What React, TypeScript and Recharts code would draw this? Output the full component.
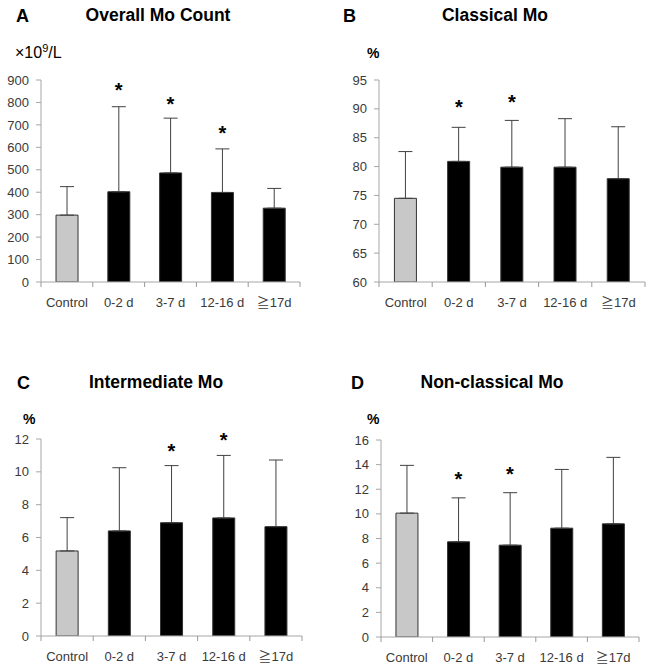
import React from 'react'
import { ComposedChart, Bar, Cell, XAxis, YAxis, ErrorBar, ReferenceDot } from 'recharts'

const categories = ['Control', '0-2 d', '3-7 d', '12-16 d', '≧17d']

// A: overall monocyte count
const overallMean = [298, 402, 486, 399, 329]
const overallSd = [127, 379, 244, 194, 88]
const overallStar = [null, 873, 814, 685, null]
const overallTicks = [0, 100, 200, 300, 400, 500, 600, 700, 800, 900]

// B: classical
const classicalMean = [74.5, 80.9, 79.9, 79.9, 77.9]
const classicalSd = [8.1, 5.9, 8.1, 8.4, 9.0]
const classicalStar = [null, 91.0, 92.0, null, null]
const classicalTicks = [60, 65, 70, 75, 80, 85, 90, 95]

// C: intermediate
const intermediateMean = [5.18, 6.4, 6.9, 7.19, 6.66]
const intermediateSd = [2.03, 3.85, 3.48, 3.81, 4.06]
const intermediateStar = [null, null, 11.53, 12.18, null]
const intermediateTicks = [0, 2, 4, 6, 8, 10, 12]

// D: non-classical
const nonClassicalMean = [10.06, 7.73, 7.46, 8.84, 9.19]
const nonClassicalSd = [3.88, 3.57, 4.26, 4.77, 5.4]
const nonClassicalStar = [null, 13.23, 13.56, null, null]
const nonClassicalTicks = [0, 2, 4, 6, 8, 10, 12, 14, 16]

const FONT = '"Liberation Sans", Arial, sans-serif'
const TICK_FONT = '"Liberation Sans", Arial, "Noto Sans CJK JP", sans-serif'
const AXIS = '#a6a6a6'
const TEXT = '#3a3a3a'
const CAT_TICK_SIZE = 9
const CAT_TICK_MARGIN = 7

const StarMark = (props: any) => (
  <text
    x={props.cx}
    y={props.cy}
    dy="0.57em"
    textAnchor="middle"
    fontSize={20}
    fontWeight="bold"
    fontFamily={FONT}
    fill="#000"
  >
    *
  </text>
)

// category label plus Excel-style tick marks on the category boundaries
const CategoryTick = (props: any) => {
  const { x, y, payload, index, fallbackHalf } = props
  const half = payload.offset || fallbackHalf
  const axisY = y - CAT_TICK_SIZE - CAT_TICK_MARGIN
  return (
    <g>
      <line x1={x - half} y1={axisY} x2={x - half} y2={axisY + 5} stroke="#999" />
      {index === categories.length - 1 && (
        <line x1={x + half} y1={axisY} x2={x + half} y2={axisY + 5} stroke="#999" />
      )}
      <text x={x} y={y} dy="0.71em" textAnchor="middle" fill={TEXT} fontSize={13} fontFamily={TICK_FONT}>
        {payload.value}
      </text>
    </g>
  )
}

interface PanelProps {
  letter: string
  title: string
  unit: React.ReactNode
  means: number[]
  sds: number[]
  stars: (number | null)[]
  ticks: number[]
  left: number
  top: number
  width: number
  height: number
  plot: { left: number; right: number; top: number; bottom: number }
  titleX: number
  titleY: number
  letterX: number
  unitX: number
  unitY: number
}

function Panel(p: PanelProps) {
  const data = categories.map((name, i) => ({ name, mean: p.means[i], err: [0, p.sds[i]] }))
  const margin = {
    top: p.plot.top,
    right: p.width - p.plot.right,
    left: 0,
    bottom: p.height - p.plot.bottom - 30,
  }
  const fallbackHalf = (p.plot.right - p.plot.left) / categories.length / 2
  return (
    <div style={{ position: 'absolute', left: p.left, top: p.top, width: p.width, height: p.height }}>
      <div style={{ position: 'absolute', left: p.letterX, top: p.titleY, transform: 'translateY(-50%)', fontSize: 18, fontWeight: 'bold', lineHeight: 1 }}>
        {p.letter}
      </div>
      <div style={{ position: 'absolute', left: p.titleX, top: p.titleY, transform: 'translate(-50%, -50%)', fontSize: 17.5, fontWeight: 'bold', lineHeight: 1, whiteSpace: 'nowrap' }}>
        {p.title}
      </div>
      <div style={{ position: 'absolute', left: p.unitX, top: p.unitY, transform: 'translateY(-50%)', fontSize: 16, lineHeight: 1, whiteSpace: 'nowrap' }}>
        {p.unit}
      </div>
      <ComposedChart width={p.width} height={p.height} data={data} margin={margin} barCategoryGap="29%">
        <XAxis
          dataKey="name"
          type="category"
          axisLine={{ stroke: AXIS }}
          tickLine={false}
          tickSize={CAT_TICK_SIZE}
          tickMargin={CAT_TICK_MARGIN}
          height={30}
          interval={0}
          tick={<CategoryTick fallbackHalf={fallbackHalf} />}
        />
        <YAxis
          domain={[p.ticks[0], p.ticks[p.ticks.length - 1]]}
          ticks={p.ticks}
          interval={0}
          allowDataOverflow
          width={p.plot.left}
          tickSize={5}
          tickMargin={7}
          stroke={AXIS}
          tick={{ fill: TEXT, fontSize: 13, fontFamily: FONT }}
        />
        <Bar dataKey="mean" stroke="#333" strokeWidth={1} isAnimationActive={false}>
          {data.map((d, i) => (
            <Cell key={d.name} fill={i === 0 ? '#c8c8c8' : '#000'} />
          ))}
          <ErrorBar dataKey="err" width={7} stroke="#404040" strokeWidth={1} direction="y" />
        </Bar>
        {p.stars.map((s, i) =>
          s == null ? null : (
            <ReferenceDot key={i} x={categories[i]} y={s} ifOverflow="visible" shape={StarMark} />
          )
        )}
      </ComposedChart>
    </div>
  )
}

export default function App() {
  return (
    <div style={{ position: 'absolute', left: 0, top: 0, width: 653, height: 668, background: '#fff', fontFamily: FONT, color: '#000' }}>
      <Panel
        letter="A"
        title="Overall Mo Count"
        unit={<span>×10<sup style={{ fontSize: 11 }}>9</sup>/L</span>}
        means={overallMean}
        sds={overallSd}
        stars={overallStar}
        ticks={overallTicks}
        left={0}
        top={0}
        width={326}
        height={330}
        plot={{ left: 41, right: 300, top: 80, bottom: 282 }}
        titleX={158}
        titleY={16}
        letterX={16}
        unitX={15}
        unitY={52}
      />
      <Panel
        letter="B"
        title="Classical Mo"
        unit={<b style={{ fontSize: 14 }}>%</b>}
        means={classicalMean}
        sds={classicalSd}
        stars={classicalStar}
        ticks={classicalTicks}
        left={326}
        top={0}
        width={327}
        height={330}
        plot={{ left: 53, right: 319, top: 80, bottom: 282 }}
        titleX={169}
        titleY={16}
        letterX={17}
        unitX={41}
        unitY={53}
      />
      <Panel
        letter="C"
        title="Intermediate Mo"
        unit={<b style={{ fontSize: 14 }}>%</b>}
        means={intermediateMean}
        sds={intermediateSd}
        stars={intermediateStar}
        ticks={intermediateTicks}
        left={0}
        top={330}
        width={326}
        height={338}
        plot={{ left: 41, right: 302, top: 109, bottom: 306 }}
        titleX={156}
        titleY={53}
        letterX={17}
        unitX={23}
        unitY={89}
      />
      <Panel
        letter="D"
        title="Non-classical Mo"
        unit={<b style={{ fontSize: 14 }}>%</b>}
        means={nonClassicalMean}
        sds={nonClassicalSd}
        stars={nonClassicalStar}
        ticks={nonClassicalTicks}
        left={326}
        top={330}
        width={327}
        height={338}
        plot={{ left: 55, right: 313, top: 110, bottom: 307 }}
        titleX={166}
        titleY={53}
        letterX={25}
        unitX={41}
        unitY={89}
      />
    </div>
  )
}
